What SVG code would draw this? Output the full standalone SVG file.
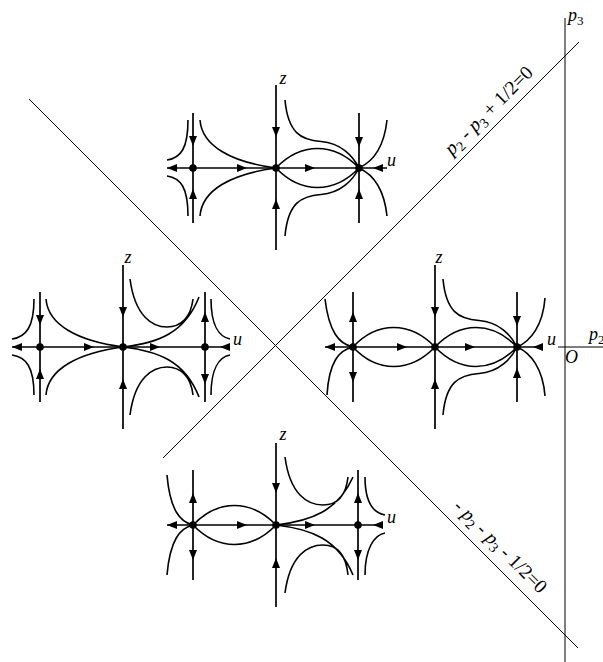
<svg xmlns="http://www.w3.org/2000/svg" xmlns:xlink="http://www.w3.org/1999/xlink" width="603" height="662" viewBox="0 0 603 662">
<style>
.thin{stroke:#000;stroke-width:1;fill:none}
.ax{stroke:#000;stroke-width:1.7;fill:none}
.cv{stroke:#000;stroke-width:1.6;fill:none}
.dot{fill:#000}
.lbl{font-family:'Liberation Serif','Times New Roman',serif;font-style:italic;font-size:18px;fill:#000}
.eq{font-family:'Liberation Serif','Times New Roman',serif;font-size:19.5px;fill:#000}
.it{font-style:italic}
</style>
<defs>
<path id="ar" d="M0,0 L-10,-4 L-10,4 Z" fill="#000"/>
</defs>
<rect width="603" height="662" fill="#fff"/>
<g id="connectors">
<path class="thin" d="M565,18 V662"/>
<path class="thin" d="M558,347 H603"/>
<path class="thin" d="M579,42 L163,458"/>
<path class="thin" d="M29,99 L578,648"/>
</g>
<g id="axis-labels">
<text class="lbl" x="568" y="21" font-size="19">p<tspan font-style="normal" font-size="13" dy="4">3</tspan></text>
<text class="lbl" x="589" y="340" font-size="19">p<tspan font-style="normal" font-size="13" dy="4">2</tspan></text>
<text class="lbl" x="565" y="363" font-size="17">O</text>
<text class="eq" transform="translate(493,115) rotate(-45)" text-anchor="middle"><tspan class="it">p</tspan><tspan font-size="14" dy="4">2</tspan><tspan dy="-4"> - </tspan><tspan class="it">p</tspan><tspan font-size="14" dy="4">3</tspan><tspan dy="-4"> + 1/2=0</tspan></text>
<text class="eq" transform="translate(496,551) rotate(45)" text-anchor="middle">- <tspan class="it">p</tspan><tspan font-size="14" dy="4">2</tspan><tspan dy="-4"> - </tspan><tspan class="it">p</tspan><tspan font-size="14" dy="4">3</tspan><tspan dy="-4"> - 1/2=0</tspan></text>
</g>
<g id="portrait-top" transform="translate(276,168)">
<path class="ax" d="M-109,0 H111 M0,-83 V82 M-83,-55 V55 M83,-55 V55"/>
<path class="cv" d="M-109,-8 C-95,-10 -88,-20 -88,-48 M-109,8 C-95,10 -88,20 -88,48 M-76,-48 C-74,-22 -45,-6 0,0 M-76,48 C-74,22 -45,6 0,0 M0,0 C25,-26 58,-26 83,0 M0,0 C25,26 58,26 83,0 M9,-68 C12,-35 25,-28 45,-26.5 C65,-25 77,-12 83,0 M9,68 C12,35 25,28 45,26.5 C65,25 77,12 83,0 M83,0 C96,-6 108,-20 111,-48 M83,0 C96,6 108,20 111,48"/>
<use xlink:href="#ar" transform="translate(-109,0) rotate(180)"/>
<use xlink:href="#ar" transform="translate(-29,0)"/>
<use xlink:href="#ar" transform="translate(39,0)"/>
<use xlink:href="#ar" transform="translate(97,0) rotate(180)"/>
<use xlink:href="#ar" transform="translate(-83,-22) rotate(90)"/>
<use xlink:href="#ar" transform="translate(-83,21) rotate(-90)"/>
<use xlink:href="#ar" transform="translate(0,-31) rotate(90)"/>
<use xlink:href="#ar" transform="translate(0,31) rotate(-90)"/>
<use xlink:href="#ar" transform="translate(83,-21) rotate(90)"/>
<use xlink:href="#ar" transform="translate(83,21) rotate(-90)"/>
<circle class="dot" cx="-83" cy="0" r="3.8"/><circle class="dot" cx="0" cy="0" r="3.8"/><circle class="dot" cx="83" cy="0" r="3.8"/>
<text class="lbl" x="7" y="-84" text-anchor="middle">z</text>
<text class="lbl" x="111" y="-2">u</text>
</g>
<g id="portrait-left" transform="translate(123,347)">
<path class="ax" d="M-111,0 H107 M0,-82 V82 M-83,-55 V55 M82,-55 V55"/>
<path class="cv" d="M-111,-8 C-97,-10 -89,-20 -89,-48 M-111,8 C-97,10 -89,20 -89,48 M-77,-48 C-75,-22 -45,-6 0,0 M-77,48 C-75,22 -45,6 0,0 M0,0 C35,-4 62,-14 76,-50 M0,0 C35,4 62,14 76,50 M7,-68 C12,-30 30,-20 44,-20 C58,-20 68,-30 70,-48 M7,68 C12,30 30,20 44,20 C58,20 68,30 70,48 M88,-48 C88,-22 96,-10 107,-8 M88,48 C88,22 96,10 107,8"/>
<use xlink:href="#ar" transform="translate(-111,0) rotate(180)"/>
<use xlink:href="#ar" transform="translate(-29,0)"/>
<use xlink:href="#ar" transform="translate(37,0)"/>
<use xlink:href="#ar" transform="translate(97,0) rotate(180)"/>
<use xlink:href="#ar" transform="translate(-83,-22) rotate(90)"/>
<use xlink:href="#ar" transform="translate(-83,22) rotate(-90)"/>
<use xlink:href="#ar" transform="translate(0,-30) rotate(90)"/>
<use xlink:href="#ar" transform="translate(0,32) rotate(-90)"/>
<use xlink:href="#ar" transform="translate(82,-35) rotate(-90)"/>
<use xlink:href="#ar" transform="translate(82,37) rotate(90)"/>
<circle class="dot" cx="-83" cy="0" r="3.8"/><circle class="dot" cx="0" cy="0" r="3.8"/><circle class="dot" cx="82" cy="0" r="3.8"/>
<text class="lbl" x="5" y="-84" text-anchor="middle">z</text>
<text class="lbl" x="110" y="-2">u</text>
</g>
<g id="portrait-right" transform="translate(435,347)">
<path class="ax" d="M-110,0 H108 M0,-82 V82 M-82,-55 V55 M82,-55 V55"/>
<path class="cv" d="M-110,-48 C-106,-15 -96,-3 -82,0 M-108,48 C-106,15 -96,3 -82,0 M-82,0 C-58,-26 -25,-26 0,0 M-82,0 C-58,26 -25,26 0,0 M0,0 C25,-26 57,-26 82,0 M0,0 C25,26 57,26 82,0 M8,-68 C11,-35 24,-28 44,-26.5 C64,-25 76,-12 82,0 M8,68 C11,35 24,28 44,26.5 C64,25 76,12 82,0 M82,0 C96,-6 108,-22 110,-49 M82,0 C96,6 108,22 110,49"/>
<use xlink:href="#ar" transform="translate(-110,0) rotate(180)"/>
<use xlink:href="#ar" transform="translate(-28,0)"/>
<use xlink:href="#ar" transform="translate(40,0)"/>
<use xlink:href="#ar" transform="translate(98,0) rotate(180)"/>
<use xlink:href="#ar" transform="translate(-82,-35) rotate(-90)"/>
<use xlink:href="#ar" transform="translate(-82,35) rotate(90)"/>
<use xlink:href="#ar" transform="translate(0,-30) rotate(90)"/>
<use xlink:href="#ar" transform="translate(0,32) rotate(-90)"/>
<use xlink:href="#ar" transform="translate(82,-21) rotate(90)"/>
<use xlink:href="#ar" transform="translate(82,21) rotate(-90)"/>
<circle class="dot" cx="-82" cy="0" r="3.8"/><circle class="dot" cx="0" cy="0" r="3.8"/><circle class="dot" cx="82" cy="0" r="3.8"/>
<text class="lbl" x="4" y="-84" text-anchor="middle">z</text>
<text class="lbl" x="112" y="-2">u</text>
</g>
<g id="portrait-bottom" transform="translate(276,525)">
<path class="ax" d="M-109,0 H107 M0,-82 V82 M-83,-55 V55 M82,-55 V55"/>
<path class="cv" d="M-109,-50 C-106,-15 -96,-3 -83,0 M-109,50 C-106,15 -96,3 -83,0 M-83,0 C-58,-26 -25,-26 0,0 M-83,0 C-58,26 -25,26 0,0 M0,0 C35,-4 62,-14 77,-48 M0,0 C35,4 62,14 77,50 M9,-68 C14,-30 32,-20 47,-20 C62,-20 70,-30 72,-48 M9,68 C14,30 32,20 47,20 C62,20 70,30 72,50 M89,-48 C89,-22 98,-12 109,-10 M89,50 C89,24 98,10 109,8"/>
<use xlink:href="#ar" transform="translate(-109,0) rotate(180)"/>
<use xlink:href="#ar" transform="translate(-29,0)"/>
<use xlink:href="#ar" transform="translate(39,0)"/>
<use xlink:href="#ar" transform="translate(97,0) rotate(180)"/>
<use xlink:href="#ar" transform="translate(-83,-32) rotate(-90)"/>
<use xlink:href="#ar" transform="translate(-83,35) rotate(90)"/>
<use xlink:href="#ar" transform="translate(0,-32) rotate(90)"/>
<use xlink:href="#ar" transform="translate(0,33) rotate(-90)"/>
<use xlink:href="#ar" transform="translate(82,-32) rotate(-90)"/>
<use xlink:href="#ar" transform="translate(82,35) rotate(90)"/>
<circle class="dot" cx="-83" cy="0" r="3.8"/><circle class="dot" cx="0" cy="0" r="3.8"/><circle class="dot" cx="82" cy="0" r="3.8"/>
<text class="lbl" x="7" y="-85" text-anchor="middle">z</text>
<text class="lbl" x="111" y="-2">u</text>
</g>
</svg>
